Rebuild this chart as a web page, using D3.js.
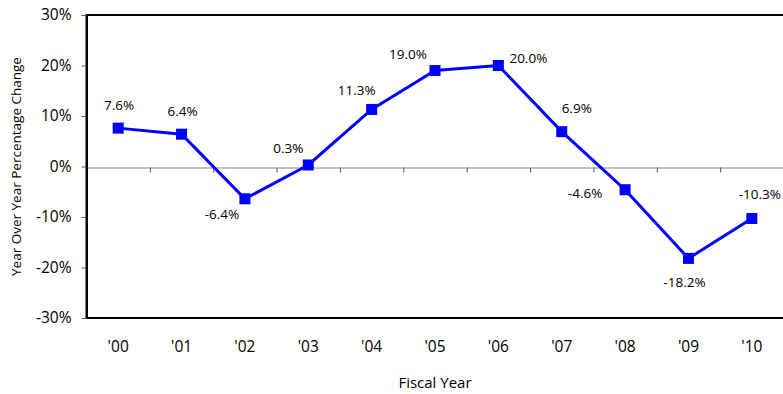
<!DOCTYPE html>
<html>
<head>
<meta charset="utf-8">
<script src="https://cdn.jsdelivr.net/npm/d3@7"></script>
<style>
  html, body { margin: 0; padding: 0; background: #fff; }
  svg { display: block; font-family: "Open Sans", sans-serif; }
</style>
</head>
<body>
<svg id="chart" width="783" height="394"></svg>
<script>
// Fiscal years and year-over-year percentage change
const years = ["'00", "'01", "'02", "'03", "'04", "'05", "'06", "'07", "'08", "'09", "'10"];
const changes = [7.6, 6.4, -6.4, 0.3, 11.3, 19.0, 20.0, 6.9, -4.6, -18.2, -10.3];
const yTicks = [-30, -20, -10, 0, 10, 20, 30];

// where each value label sits relative to its marker (dx, dy in px)
const labelNudge = [
  [1, -23], [1, -23], [-23, 15], [-20, -17], [-15, -19], [-27, -17],
  [30, -8], [15, -24], [-40, 3], [-4, 24], [8, -25]
];

const svg = d3.select("#chart");
const plot = { left: 86.5, top: 15, right: 783.5, bottom: 318 };

const x = d3.scaleBand().domain(years).range([plot.left, plot.right]).padding(0);
const y = d3.scaleLinear().domain([-30, 30]).range([plot.bottom, plot.top]);
const cx = d => x(d) + x.bandwidth() / 2;

// zero baseline with category separator ticks
const edge = d3.scaleLinear().domain([0, years.length]).range([plot.left, plot.right]);
const zeroAxis = svg.append("g")
  .attr("transform", `translate(0,${Math.round(y(0)) + 0.5})`)
  .call(d3.axisBottom(edge).tickValues(d3.range(1, years.length))
    .tickFormat("").tickSizeInner(5).tickSizeOuter(0));
zeroAxis.select(".domain").attr("stroke", "#868686").attr("stroke-width", 1);
zeroAxis.selectAll(".tick line").attr("stroke", "#595959");

// plot frame (right side runs past the edge)
svg.append("rect")
  .attr("x", plot.left).attr("y", plot.top)
  .attr("width", 800).attr("height", plot.bottom - plot.top)
  .attr("fill", "none").attr("stroke", "#000").attr("stroke-width", 2);

// value axis
const yAxis = svg.append("g")
  .attr("transform", `translate(${plot.left},0)`)
  .call(d3.axisLeft(y).tickValues(yTicks).tickFormat(d => d + "%")
    .tickSizeInner(5).tickSizeOuter(0).tickPadding(10));
yAxis.select(".domain").attr("stroke", "#000").attr("stroke-width", 2);
yAxis.selectAll(".tick line").attr("stroke", "#595959");
yAxis.selectAll(".tick text").attr("font-size", 15.5).attr("fill", "#000")
  .attr("font-family", "'Open Sans', sans-serif");

// category axis labels
const xAxis = svg.append("g")
  .attr("transform", `translate(0,${plot.bottom})`)
  .call(d3.axisBottom(x).tickSize(0).tickPadding(23));
xAxis.select(".domain").remove();
xAxis.selectAll(".tick text").attr("font-size", 15.5).attr("fill", "#000")
  .attr("font-family", "'Open Sans', sans-serif");

// series line and square markers
const pts = years.map((yr, i) => ({ yr, v: changes[i], i }));
svg.append("path")
  .datum(pts)
  .attr("fill", "none").attr("stroke", "#0000FF").attr("stroke-width", 3)
  .attr("d", d3.line().x(d => cx(d.yr)).y(d => y(d.v)));

const m = 11;
svg.append("g").selectAll("rect").data(pts).join("rect")
  .attr("x", d => cx(d.yr) - m / 2).attr("y", d => y(d.v) - m / 2)
  .attr("width", m).attr("height", m).attr("fill", "#0000FF");

// value labels
svg.append("g").selectAll("text").data(pts).join("text")
  .attr("x", d => cx(d.yr) + labelNudge[d.i][0])
  .attr("y", d => y(d.v) + labelNudge[d.i][1])
  .attr("text-anchor", "middle").attr("dominant-baseline", "central")
  .attr("font-size", 13.5).attr("fill", "#000")
  .text(d => d.v.toFixed(1) + "%");

// axis titles
svg.append("text")
  .attr("transform", `translate(16,${(plot.top + plot.bottom) / 2}) rotate(-90)`)
  .attr("text-anchor", "middle").attr("dominant-baseline", "central")
  .attr("font-size", 13.5).attr("fill", "#000")
  .text("Year Over Year Percentage Change");

svg.append("text")
  .attr("x", (plot.left + plot.right) / 2).attr("y", 382)
  .attr("text-anchor", "middle").attr("dominant-baseline", "central")
  .attr("font-size", 15).attr("fill", "#000")
  .text("Fiscal Year");
</script>
</body>
</html>
